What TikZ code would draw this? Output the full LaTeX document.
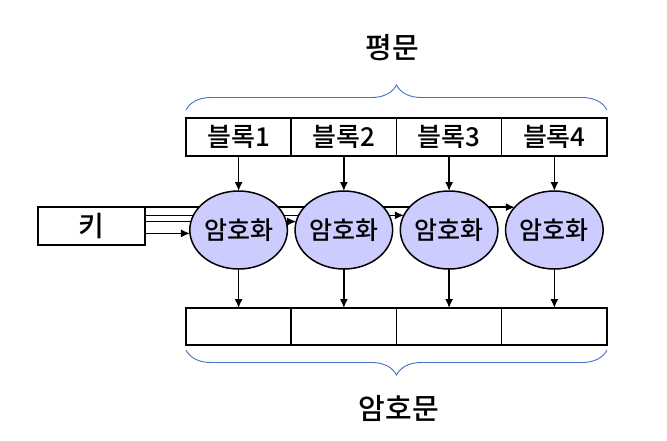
\documentclass[tikz,border=0pt]{standalone}
\usepackage{fontspec}
\setmainfont{Noto Sans CJK KR Medium}
\usetikzlibrary{arrows.meta,positioning,shapes.geometric,backgrounds,decorations.pathreplacing}
\definecolor{enccol}{RGB}{204,204,255}
\definecolor{bracecol}{RGB}{68,114,196}

\begin{document}
\begin{tikzpicture}[x=1pt, y=-1pt,
    >={Latex[length=9pt,width=8pt]}, node distance=0pt,
    blk/.style={draw, line width=1.5pt, outer sep=0pt, inner sep=0pt,
                minimum width=105.25pt, minimum height=38pt,
                font=\fontsize{26}{28}\selectfont},
    enc/.style={draw, line width=1.5pt, ellipse, fill=enccol, outer sep=0pt,
                inner sep=0pt, minimum width=82pt, minimum height=78pt,
                font=\fontsize{25}{27}\selectfont},
    lbl/.style={font=\fontsize{29}{31}\selectfont},
    ar/.style={->, line width=1.4pt},
    br/.style={decorate, decoration={brace, amplitude=25pt}, bracecol, line width=0.9pt}
  ]
  \useasboundingbox (0,0) rectangle (667,440);

  \node[lbl] (plain) at (392,48) {평문};

  \node[blk] (b1) at (238.6,137) {블록1};
  \node[blk, right=of b1] (b2) {블록2};
  \node[blk, right=of b2] (b3) {블록3};
  \node[blk, right=of b3] (b4) {블록4};

  \node[enc, below=35pt of b1] (e1) {암호화};
  \node[enc, below=35pt of b2] (e2) {암호화};
  \node[enc, below=35pt of b3] (e3) {암호화};
  \node[enc, below=35pt of b4] (e4) {암호화};

  \node[blk, minimum height=37pt, below=39pt of e1] (c1) {};
  \node[blk, minimum height=37pt, right=of c1] (c2) {};
  \node[blk, minimum height=37pt, right=of c2] (c3) {};
  \node[blk, minimum height=37pt, right=of c3] (c4) {};

  \node[blk, minimum width=107pt, font=\fontsize{28}{30}\selectfont] (key) at (91.5,226) {키};

  \node[lbl] (cipher) at (399,408) {암호문};

  \draw[br] ([yshift=8pt]b1.north west) -- ([yshift=8pt]b4.north east);
  \draw[br] ([yshift=-5pt]c4.south east) -- ([yshift=-5pt]c1.south west);

  \foreach \i in {1,...,4} {
    \draw[ar] (b\i) -- (e\i);
    \draw[ar] (e\i) -- (c\i);
  }

  % key lines run behind the ellipses
  \begin{scope}[on background layer]
    \draw[ar] (key.east |- e4.150) -- (e4.150);
    \draw[ar] (key.east |- e3.162) -- (e3.162);
    \draw[ar] (key.east |- e2.170) -- (e2.170);
    \draw[ar] (key.east |- e1.184) -- (e1.184);
  \end{scope}
\end{tikzpicture}
\end{document}
